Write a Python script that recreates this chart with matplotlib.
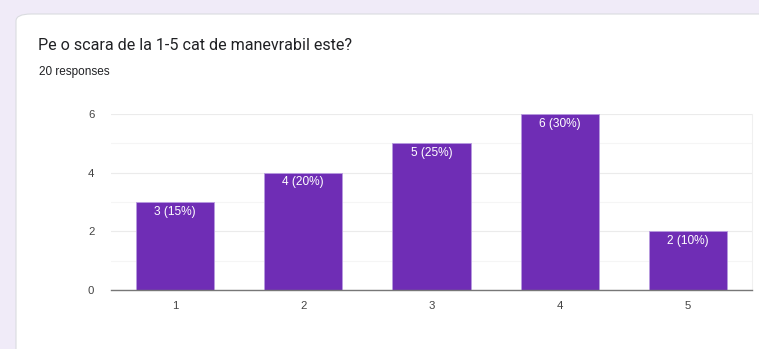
import matplotlib
matplotlib.use("Agg")
import matplotlib.pyplot as plt
from matplotlib.patches import FancyBboxPatch

categories = ["1", "2", "3", "4", "5"]
counts = [3, 4, 5, 6, 2]
total = 20
title = "Pe o scara de la 1-5 cat de manevrabil este?"
subtitle = "20 responses"
y_ticks = [0, 2, 4, 6]

W, H = 759, 349
fig = plt.figure(figsize=(W / 100, H / 100), dpi=100)
fig.patch.set_facecolor("#f0ebf8")

# white card
card = FancyBboxPatch((16 / W, -0.1), 1.2, (H - 14) / H + 0.1,
                      boxstyle="round,pad=0,rounding_size=0.02",
                      transform=fig.transFigure, facecolor="white",
                      edgecolor="#dadce0", linewidth=0.8, zorder=-10)
fig.patches.append(card)

plt.rcParams['font.family'] = ['Roboto', 'DejaVu Sans']
lib = ['Liberation Sans', 'DejaVu Sans']

fig.text(38 / W, 1 - 45 / H, title, fontsize=11.6, color="#202124", va="center", ha="left")
fig.text(39 / W, 1 - 72 / H, subtitle, fontsize=8.5, color="#202124", va="center", ha="left",
         family=lib)

left, right = 111, 752
top, bottom = 114, 290
ax = fig.add_axes([left / W, 1 - bottom / H, (right - left) / W, (bottom - top) / H])
ax.set_zorder(5)
ax.set_facecolor("white")

x = list(range(len(categories)))
bars = ax.bar(x, counts, width=0.61, color="#6f2db5", edgecolor="#b89be0", linewidth=0.6, zorder=3)
for xi, c in zip(x, counts):
    ax.text(xi, c - 0.12, f"{c} ({c / total * 100:.0f}%)", ha="center", va="top",
            color="white", fontsize=8.6, zorder=4, family=lib)

ax.set_xlim(-0.5, len(categories) - 0.5)
ax.set_ylim(0, 6)
ax.set_yticks(y_ticks)
ax.set_yticks([1, 3, 5], minor=True)
ax.set_xticks(x)
ax.set_xticklabels(categories)
ax.grid(axis="y", which="major", color="#ebebeb", linewidth=0.8, zorder=0)
ax.grid(axis="y", which="minor", color="#f5f5f5", linewidth=0.8, zorder=0)
for s in ["top", "left"]:
    ax.spines[s].set_visible(False)
ax.spines["right"].set_color("#f0f0f0")
ax.spines["bottom"].set_color("#777777")
ax.spines["bottom"].set_linewidth(1.0)
ax.spines["bottom"].set_zorder(5)
ax.tick_params(axis="both", which="both", length=0, labelsize=8.2, colors="#444444")
for lab in ax.get_xticklabels() + ax.get_yticklabels():
    lab.set_family(lib)
ax.tick_params(axis="y", pad=12)
ax.tick_params(axis="x", pad=8)

fig.savefig("out.png", dpi=100, facecolor=fig.get_facecolor())
